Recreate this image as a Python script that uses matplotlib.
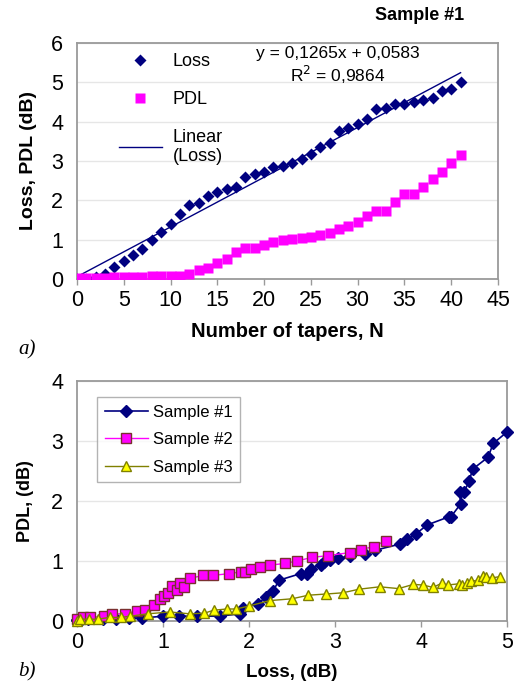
import matplotlib
matplotlib.use("Agg")
import matplotlib.pyplot as plt
import numpy as np

plt.rcParams['font.family'] = ['Liberation Sans', 'DejaVu Sans']

# ---- data: panel a) ----
n_tapers = list(range(42))
loss = [0.0, 0.0, 0.05, 0.13, 0.30, 0.45, 0.60, 0.76, 1.00, 1.19,
        1.40, 1.66, 1.89, 1.93, 2.10, 2.20, 2.28, 2.35, 2.60, 2.67,
        2.72, 2.84, 2.87, 2.94, 3.04, 3.18, 3.35, 3.47, 3.75, 3.84,
        3.94, 4.07, 4.33, 4.35, 4.46, 4.45, 4.50, 4.56, 4.60, 4.78,
        4.84, 5.00]
pdl = [0.02, 0.02, 0.02, 0.03, 0.04, 0.04, 0.05, 0.05, 0.08, 0.08,
       0.08, 0.08, 0.12, 0.22, 0.29, 0.40, 0.50, 0.68, 0.79, 0.79,
       0.87, 0.94, 0.98, 1.01, 1.05, 1.08, 1.12, 1.18, 1.28, 1.36,
       1.45, 1.60, 1.74, 1.74, 1.95, 2.15, 2.15, 2.33, 2.53, 2.73,
       2.96, 3.15]
fit_slope = 0.1265
fit_intercept = 0.0583
fit_range = [0, 41]

# ---- data: panel b) ----
s2_loss = [0.00, 0.07, 0.15, 0.31, 0.41, 0.56, 0.70, 0.79, 0.89, 0.97,
           1.01, 1.06, 1.10, 1.16, 1.20, 1.24, 1.31, 1.47, 1.58, 1.77,
           1.91, 1.95, 2.02, 2.13, 2.24, 2.42, 2.56, 2.73, 2.92, 3.17,
           3.30, 3.45, 3.59]
s2_pdl = [0.03, 0.06, 0.06, 0.08, 0.12, 0.12, 0.17, 0.19, 0.27, 0.36,
          0.42, 0.46, 0.58, 0.52, 0.64, 0.56, 0.71, 0.76, 0.76, 0.79,
          0.82, 0.82, 0.87, 0.90, 0.93, 0.96, 1.00, 1.06, 1.09, 1.14,
          1.19, 1.24, 1.34]
s3_loss = [0.00, 0.04, 0.14, 0.24, 0.38, 0.51, 0.62, 0.82, 1.08, 1.31,
           1.48, 1.59, 1.74, 1.85, 2.00, 2.24, 2.50, 2.69, 2.90, 3.09,
           3.28, 3.52, 3.74, 3.91, 4.02, 4.14, 4.24, 4.31, 4.44, 4.48,
           4.53, 4.58, 4.66, 4.72, 4.76, 4.83, 4.92]
s3_pdl = [0.00, 0.03, 0.03, 0.03, 0.06, 0.06, 0.08, 0.12, 0.15, 0.12,
          0.13, 0.18, 0.20, 0.20, 0.25, 0.34, 0.37, 0.43, 0.45, 0.47,
          0.53, 0.57, 0.54, 0.61, 0.60, 0.56, 0.63, 0.60, 0.62, 0.60,
          0.63, 0.66, 0.68, 0.75, 0.73, 0.72, 0.74]

navy = '#000080'
magenta = '#FF00FF'
grid_c = '#E6E6E6'
spine_c = '#9A9A9A'

fig = plt.figure(figsize=(5.2, 6.86), dpi=100)

def style_axes(ax):
    for s in ax.spines.values():
        s.set_color(spine_c)
        s.set_linewidth(1.3)
    ax.tick_params(axis='both', colors=spine_c, labelcolor='black',
                   labelsize=15.5, length=4, width=1, direction='out')
    ax.tick_params(axis='x', pad=4)
    ax.tick_params(axis='y', length=0, pad=10)
    ax.yaxis.grid(True, color=grid_c, linewidth=1)
    ax.set_axisbelow(True)

# ---- panel a ----
ax1 = fig.add_axes([77/520, 1-279/686, 421/520, 236/686])
style_axes(ax1)
ax1.set_xlim(0, 45)
ax1.set_ylim(0, 6)
ax1.set_xticks(range(0, 46, 5))
ax1.set_yticks(range(0, 7))
fx = np.array(fit_range)
ax1.plot(fx, fit_slope*fx + fit_intercept, color=navy, lw=1.0,
         label='Linear\n(Loss)', zorder=2)
ax1.plot(n_tapers, loss, ls='none', marker='D', ms=6.5, color=navy,
         mec='none', label='Loss', zorder=3)
ax1.plot(n_tapers, pdl, ls='none', marker='s', ms=7.5, color=magenta,
         mec='none', label='PDL', zorder=3)
h, l = ax1.get_legend_handles_labels()
order = [1, 2, 0]
ax1.legend([h[i] for i in order], [l[i] for i in order], frameon=False,
           loc='upper left', bbox_to_anchor=(0.06, 1.025), fontsize=13,
           labelspacing=1.15, handlelength=2.4, handletextpad=0.6)
ax1.text(0.62, 0.955, 'y = 0,1265x + 0,0583', transform=ax1.transAxes,
         ha='center', va='center', fontsize=12.5)
ax1.text(0.62, 0.865, 'R$^2$ = 0,9864', transform=ax1.transAxes,
         ha='center', va='center', fontsize=12.5)
ax1.set_ylabel('Loss, PDL (dB)', fontsize=14, fontweight='bold', labelpad=10)
ax1.set_xlabel('Number of tapers, N', fontsize=14.5, fontweight='bold', labelpad=8)
fig.text(420/520, 1-16/686, 'Sample #1', ha='center', va='center',
         fontsize=13, fontweight='bold')
fig.text(18/520, 1-350/686, 'a)', ha='left', va='center', fontsize=15,
         style='italic', family='Liberation Serif')

# ---- panel b ----
ax2 = fig.add_axes([77/520, 1-621/686, 430/520, 240/686])
style_axes(ax2)
ax2.set_xlim(0, 5)
ax2.set_ylim(0, 4)
ax2.set_xticks(range(0, 6))
ax2.set_yticks(range(0, 5))
ax2.plot(loss, pdl, color=navy, lw=1.2, marker='D', ms=6, mec=navy,
         mfc=navy, label='Sample #1', zorder=3, clip_on=False)
ax2.plot(s2_loss, s2_pdl, color=magenta, lw=1.0, marker='s', ms=6.5,
         mfc=magenta, mec='#7A3030', mew=1.0, label='Sample #2', zorder=3,
         clip_on=False)
ax2.plot(s3_loss, s3_pdl, color='#808000', lw=1.0, marker='^', ms=7.5,
         mfc='#FFFF00', mec='#808000', mew=1.0, label='Sample #3', zorder=3,
         clip_on=False)
leg = ax2.legend(loc='upper left', bbox_to_anchor=(0.047, 0.933), fontsize=12,
                 frameon=True, fancybox=False, edgecolor='#A0A0A0',
                 labelspacing=0.75, handlelength=2.6, handletextpad=0.3,
                 borderpad=0.45, borderaxespad=0)
leg.get_frame().set_linewidth(1.0)
ax2.set_ylabel('PDL, (dB)', fontsize=13, fontweight='bold', labelpad=12)
ax2.set_xlabel('Loss, (dB)', fontsize=13.5, fontweight='bold', labelpad=8)
fig.text(18/520, 1-672/686, 'b)', ha='left', va='center', fontsize=15,
         style='italic', family='Liberation Serif')

fig.savefig('out.png', dpi=100)
